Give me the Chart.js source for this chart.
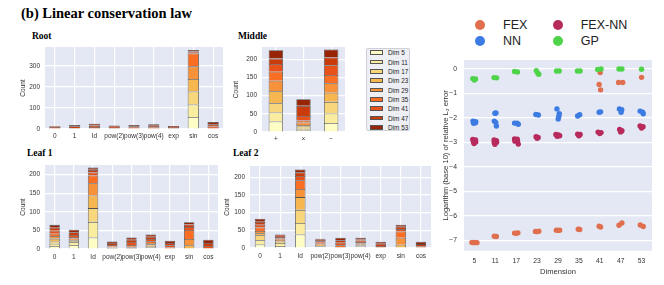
<!DOCTYPE html>
<html>
<head>
<meta charset="utf-8">
<script src="https://cdn.jsdelivr.net/npm/chart.js@4.4.1/dist/chart.umd.min.js"></script>
<style>
  body { margin: 0; background: #fff; }
  #fig { position: relative; width: 664px; height: 285px; overflow: hidden; font-family: "Liberation Sans", Arial, sans-serif; }
  .box { position: absolute; }
  .ttl { position: absolute; font-family: "Liberation Serif", "Times New Roman", serif; font-weight: bold; white-space: nowrap; line-height: 1; color: #000; }
  #dimLegend { position: absolute; left: 366px; top: 48px; width: 44px; height: 83px; background: #eeeff5; border: 1px solid #cfcfd6; border-radius: 2px; box-sizing: border-box; }
  #dimLegend .row { position: absolute; left: 0; height: 9px; line-height: 9px; font-size: 6.4px; color: #222; white-space: nowrap; }
  #dimLegend .patch { position: absolute; left: 3px; top: 2.2px; width: 13px; height: 4.5px; border: 0.8px solid #555; box-sizing: border-box; }
  #dimLegend .lbl { position: absolute; left: 21px; top: 0; }
  #methLegend .item { position: absolute; height: 14px; line-height: 14px; font-size: 12.5px; color: #222; white-space: nowrap; }
  #methLegend .dot { position: absolute; width: 10px; height: 10px; border-radius: 50%; }
</style>
</head>
<body>
<div id="fig">
  <div class="ttl" style="left:21px; top:5.5px; font-size:14.5px;">(b) Linear conservation law</div>
  <div class="ttl" style="left:32px; top:31.6px; font-size:9.5px;">Root</div>
  <div class="ttl" style="left:238px; top:31.6px; font-size:9.5px;">Middle</div>
  <div class="ttl" style="left:27px; top:148.5px; font-size:9.5px;">Leaf 1</div>
  <div class="ttl" style="left:233px; top:148.5px; font-size:9.5px;">Leaf 2</div>

  <div class="box" style="left:15px; top:47px; width:208px; height:96px;"><canvas id="root"></canvas></div>
  <div class="box" style="left:228px; top:47px; width:117px; height:99px;"><canvas id="middle"></canvas></div>
  <div class="box" style="left:15px; top:165px; width:203px; height:98px;"><canvas id="leaf1"></canvas></div>
  <div class="box" style="left:219px; top:166px; width:212px; height:96px;"><canvas id="leaf2"></canvas></div>
  <div id="dimLegend"></div>

  <div class="box" style="left:437px; top:60px; width:215px; height:216px;"><canvas id="errors"></canvas></div>
  <div id="methLegend"></div>
</div>

<script>
const dimLabels = ["Dim 5", "Dim 11", "Dim 17", "Dim 23", "Dim 29", "Dim 35", "Dim 41", "Dim 47", "Dim 53"];
const dimColors = ["#fefdc6", "#fbeda0", "#f8d67b", "#f6b750", "#f8923a", "#f96e22", "#e8511a", "#c93b0a", "#982406"];
const funcLabels = ["0", "1", "Id", "pow(2)", "pow(3)", "pow(4)", "exp", "sin", "cos"];
const opLabels = ["+", "×", "−"];

// counts: one row per dimension (Dim 5 ... Dim 53), one entry per category
const rootCounts = [
    [0, 0, 0, 0, 0, 0, 0, 57, 0],
    [0, 0, 0, 0, 0, 0, 0, 60, 0],
    [0, 0, 0, 0, 0, 0, 0, 61, 0],
    [0, 0, 0, 0, 0, 0, 0, 60, 0],
    [0, 0, 0, 0, 0, 0, 0, 60, 0],
    [0, 0, 0, 0, 0, 0, 0, 61, 0],
    [10, 5, 9, 5, 6, 8, 5, 4, 12],
    [3, 8, 8, 6, 7, 7, 5, 6, 10],
    [1, 6, 8, 6, 6, 7, 4, 7, 11],
];
const middleCounts = [
    [29, 4, 25],
    [25, 5, 26],
    [25, 6, 32],
    [33, 4, 25],
    [29, 7, 26],
    [25, 6, 23],
    [21, 12, 27],
    [15, 28, 21],
    [23, 18, 22],
];
const leaf1Counts = [
    [8, 10, 31, 1, 0, 2, 0, 0, 0],
    [6, 8, 42, 1, 1, 3, 0, 0, 0],
    [6, 4, 37, 1, 1, 4, 0, 0, 0],
    [8, 2, 34, 1, 2, 4, 0, 10, 0],
    [7, 4, 33, 1, 2, 3, 0, 17, 0],
    [6, 4, 21, 2, 5, 5, 4, 24, 0],
    [8, 6, 8, 4, 8, 6, 6, 8, 8],
    [8, 7, 7, 5, 6, 6, 6, 7, 8],
    [8, 7, 6, 4, 6, 6, 6, 6, 9],
];
const leaf2Counts = [
    [10, 6, 38, 2, 0, 2, 0, 0, 0],
    [12, 8, 33, 2, 0, 2, 0, 0, 0],
    [14, 4, 37, 2, 0, 3, 0, 0, 0],
    [6, 2, 36, 3, 0, 3, 0, 9, 0],
    [6, 3, 23, 3, 3, 3, 0, 20, 0],
    [10, 4, 25, 3, 5, 4, 0, 18, 0],
    [8, 4, 12, 4, 7, 4, 6, 7, 5],
    [8, 4, 10, 4, 7, 4, 6, 6, 6],
    [9, 3, 8, 3, 7, 4, 6, 6, 7],
];
const rootTicks = [0, 100, 200, 300];
const countTicks = [0, 50, 100, 150, 200];

// log10 relative L2 error: [dimension, jitter, value]
const dims = [5, 11, 17, 23, 29, 35, 41, 47, 53];
const errTicks = [-7, -6, -5, -4, -3, -2, -1, 0];
const methods = ["FEX", "FEX-NN", "NN", "GP"];
const methodColors = ["#df6f4e", "#b72b5c", "#3b7be2", "#4fd34a"];
const fexErr = [
    [5, -0.12, -7.09], [5, -0.04, -7.1], [5, 0.04, -7.09], [5, 0.12, -7.1],
    [11, -0.05, -6.84], [11, 0.05, -6.85],
    [17, -0.08, -6.71], [17, 0, -6.72], [17, 0.08, -6.7],
    [23, -0.08, -6.64], [23, 0, -6.65], [23, 0.08, -6.63],
    [29, -0.08, -6.59], [29, 0, -6.6], [29, 0.08, -6.59],
    [35, -0.03, -6.55], [35, 0.04, -6.56],
    [41, -0.03, -6.43], [41, 0.04, -6.46],
    [47, -0.08, -6.39], [47, 0.06, -6.3],
    [53, -0.06, -6.38], [53, 0.08, -6.44],
    [41, 0.02, -0.14], [41, -0.03, -0.63], [41, 0.04, -0.85],
    [47, -0.1, -0.55], [47, 0.1, -0.55], [53, 0, -0.34],
];
const fexNnErr = [
    [5, -0.08, -2.88], [5, 0.05, -2.9], [5, -0.05, -2.97], [5, 0.06, -2.98], [5, -0.02, -3.05],
    [11, -0.06, -2.9], [11, 0.05, -2.93], [11, -0.05, -3.0], [11, 0.06, -2.99], [11, -0.02, -3.08],
    [17, -0.08, -2.86], [17, 0.05, -2.87], [17, -0.06, -2.95], [17, 0.06, -2.94], [17, 0.1, -3.07],
    [23, -0.05, -2.77], [23, 0.05, -2.8], [23, 0, -2.83],
    [29, -0.1, -2.68], [29, 0.02, -2.7], [29, 0.08, -2.73], [29, -0.04, -2.75],
    [35, -0.06, -2.66], [35, 0.06, -2.68], [35, 0, -2.73],
    [41, -0.08, -2.58], [41, 0.06, -2.6], [41, 0, -2.64],
    [47, -0.05, -2.47], [47, 0.06, -2.52], [47, 0, -2.57],
    [53, -0.07, -2.33], [53, 0.07, -2.36], [53, 0, -2.41],
];
const nnErr = [
    [5, -0.07, -2.13], [5, 0.06, -2.15], [5, -0.04, -2.22], [5, 0.05, -2.2],
    [11, -0.02, -1.81], [11, 0.03, -1.8], [11, -0.05, -2.13], [11, 0.02, -2.18], [11, 0.05, -2.33],
    [17, -0.08, -2.21], [17, 0.04, -2.22], [17, 0.1, -2.26],
    [23, -0.06, -1.86], [23, 0.06, -1.88],
    [29, -0.05, -1.63], [29, 0.06, -1.83], [29, 0.04, -1.93], [29, 0.01, -2.04],
    [35, -0.06, -1.92], [35, 0.04, -1.87],
    [41, -0.03, -1.77], [41, 0.04, -1.75],
    [47, -0.06, -1.63], [47, 0.05, -1.66], [47, 0.02, -1.77],
    [53, -0.07, -1.72], [53, 0.05, -1.76], [53, 0.08, -1.83],
];
const gpErr = [
    [5, -0.08, -0.39], [5, 0.05, -0.41], [5, 0, -0.45],
    [11, -0.06, -0.35], [11, 0.06, -0.36],
    [17, -0.08, -0.1], [17, 0.06, -0.12],
    [23, -0.04, -0.07], [23, 0.04, -0.18], [23, 0.08, -0.21],
    [29, -0.07, -0.08], [29, 0.06, -0.08],
    [35, -0.07, -0.08], [35, 0.06, -0.08],
    [41, -0.1, -0.02], [41, 0.06, 0.0],
    [47, -0.08, 0.0], [47, 0.06, 0.0],
    [53, 0, -0.01],
];

Chart.defaults.font.family = '"Liberation Sans", Arial, sans-serif';
Chart.defaults.color = "#333";

const plotBg = {
    id: "plotBg",
    beforeDraw(chart) {
        const { ctx, chartArea: a } = chart;
        ctx.save();
        ctx.fillStyle = "#e4e8f5";
        ctx.fillRect(a.left, a.top, a.right - a.left, a.bottom - a.top);
        ctx.restore();
    },
};

function stackedCounts(id, labels, counts, yMax, yTicks, barPct, tickPad, axisW, axisH) {
    const datasets = counts.map((row, i) => ({
        label: dimLabels[i],
        data: row.map((v) => v || null),
        backgroundColor: dimColors[i],
        borderColor: "rgba(65,65,65,0.9)",
        borderWidth: 0.8,
        barPercentage: barPct,
        categoryPercentage: 1,
    }));

    return new Chart(document.getElementById(id), {
        type: "bar",
        data: { labels: labels, datasets: datasets },
        options: {
            responsive: true,
            maintainAspectRatio: false,
            animation: false,
            layout: { padding: 0, autoPadding: false },
            plugins: { legend: { display: false }, tooltip: { enabled: false } },
            scales: {
                x: {
                    stacked: true,
                    grid: { color: "#fff", lineWidth: 1.2, drawTicks: false, offset: false },
                    border: { display: false },
                    ticks: { font: { size: 6.5 }, padding: tickPad, maxRotation: 0, autoSkip: false },
                    afterFit: (s) => {
                        s.height = axisH;
                        s.paddingLeft = 0;
                        s.paddingRight = 0;
                    },
                },
                y: {
                    stacked: true,
                    min: 0,
                    max: yMax,
                    grid: { color: "#fff", lineWidth: 1.2, drawTicks: false },
                    border: { display: false },
                    afterBuildTicks: (s) => {
                        s.ticks = yTicks.map((v) => ({ value: v }));
                    },
                    ticks: { font: { size: 6.5 }, padding: 5 },
                    title: { display: true, text: "Count", font: { size: 6.5 }, padding: { top: 4, bottom: 4 } },
                    afterFit: (s) => {
                        s.width = axisW;
                        s.paddingTop = 0;
                        s.paddingBottom = 0;
                    },
                },
            },
        },
        plugins: [plotBg],
    });
}

stackedCounts("root", funcLabels, rootCounts, 390, rootTicks, 0.57, 3, 30, 14);
stackedCounts("middle", opLabels, middleCounts, 234, countTicks, 0.52, 3, 34, 14);
stackedCounts("leaf1", funcLabels, leaf1Counts, 226, countTicks, 0.54, 4, 30, 14);
stackedCounts("leaf2", funcLabels, leaf2Counts, 232, countTicks, 0.52, 4, 31, 14);

// legend of dimensions next to the Middle panel
const dimLegend = document.getElementById("dimLegend");
dimLabels.forEach((lbl, i) => {
    const row = document.createElement("div");
    row.className = "row";
    row.style.top = (4.7 + 9.33 * i - 4.5 - 1) + "px";
    row.innerHTML = '<span class="patch" style="background:' + dimColors[i] + '"></span><span class="lbl">' + lbl + "</span>";
    dimLegend.appendChild(row);
});

// error strip plot
const toPoints = (arr) => arr.map(([d, dx, v]) => ({ x: dims.indexOf(d) + dx, y: v }));
const errSeries = [fexErr, fexNnErr, nnErr, gpErr];

new Chart(document.getElementById("errors"), {
    type: "scatter",
    data: {
        datasets: errSeries.map((arr, i) => ({
            label: methods[i],
            data: toPoints(arr),
            backgroundColor: methodColors[i],
            borderWidth: 0,
            pointRadius: 2.7,
            order: 4 - i,
        })),
    },
    options: {
        responsive: true,
        maintainAspectRatio: false,
        animation: false,
        layout: { padding: 0, autoPadding: false },
        plugins: { legend: { display: false }, tooltip: { enabled: false } },
        scales: {
            x: {
                type: "linear",
                min: -0.5,
                max: 8.5,
                grid: { display: false, drawTicks: false },
                border: { display: false },
                afterBuildTicks: (s) => {
                    s.ticks = dims.map((d, i) => ({ value: i }));
                },
                ticks: { font: { size: 6.8 }, padding: 6, callback: (v) => dims[v] },
                title: { display: true, text: "Dimension", font: { size: 7.6 }, padding: { top: 0, bottom: 0 } },
                afterFit: (s) => {
                    s.height = 25.3;
                    s.paddingLeft = 0;
                    s.paddingRight = 0;
                },
            },
            y: {
                min: -7.43,
                max: 0.37,
                grid: { color: "#fff", lineWidth: 1.3, drawTicks: false },
                border: { display: false },
                afterBuildTicks: (s) => {
                    s.ticks = errTicks.map((v) => ({ value: v }));
                },
                ticks: { font: { size: 6.8 }, padding: 7, callback: (v) => (v < 0 ? "−" + Math.abs(v) : "" + v) },
                title: { display: true, text: "Logarithm (base 10) of relative L₂ error", font: { size: 7.6 }, padding: { top: 4, bottom: 4 } },
                afterFit: (s) => {
                    s.width = 27;
                    s.paddingTop = 0;
                    s.paddingBottom = 0;
                },
            },
        },
    },
    plugins: [plotBg],
});

// method legend above the strip plot
const methLegend = document.getElementById("methLegend");
const legendSpots = [[480, 25], [557.7, 25], [480, 41], [557.7, 41]];
methods.forEach((name, k) => {
    const [cx, cy] = legendSpots[k];
    const dot = document.createElement("div");
    dot.className = "dot";
    dot.style.left = (cx - 5) + "px";
    dot.style.top = (cy - 5) + "px";
    dot.style.background = methodColors[k];
    methLegend.appendChild(dot);
    const item = document.createElement("div");
    item.className = "item";
    item.style.left = (cx + 23) + "px";
    item.style.top = (cy - 7) + "px";
    item.textContent = name;
    methLegend.appendChild(item);
});
</script>
</body>
</html>
